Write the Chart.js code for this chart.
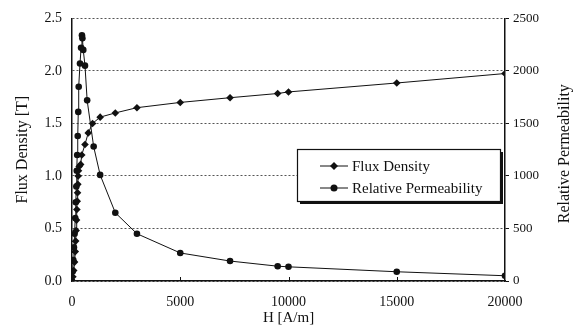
<!DOCTYPE html>
<html>
<head>
<meta charset="utf-8">
<script src="https://cdn.jsdelivr.net/npm/chart.js@4"></script>
<style>
    html, body { margin: 0; padding: 0; background: #fff; }
    #wrap { width: 583px; height: 336px; }
</style>
</head>
<body>
<div id="wrap"><canvas id="bhChart" width="583" height="336"></canvas></div>
<script>
// B-H curve (diamonds)
const fluxH = [0, 40, 80, 120, 150, 170, 190, 210, 225, 240, 255, 270, 285, 300, 330, 400, 450, 600, 750, 950, 1300, 2000, 3000, 5000, 7300, 9500, 10000, 15000, 20000];
const fluxB = [0, 0.04, 0.1, 0.18, 0.28, 0.38, 0.48, 0.58, 0.68, 0.76, 0.84, 0.92, 1.0, 1.05, 1.09, 1.11, 1.2, 1.3, 1.41, 1.5, 1.56, 1.6, 1.65, 1.7, 1.745, 1.785, 1.8, 1.885, 1.975];

// relative permeability (circles)
const permH = [0, 30, 60, 90, 120, 150, 175, 200, 220, 240, 265, 290, 310, 370, 420, 460, 480, 520, 600, 700, 1000, 1300, 2000, 3000, 5000, 7300, 9500, 10000, 15000, 20000];
const permMu = [0, 90, 200, 320, 450, 600, 750, 900, 1050, 1200, 1380, 1610, 1850, 2070, 2220, 2340, 2310, 2200, 2050, 1720, 1280, 1010, 650, 450, 267, 190, 141, 135, 88, 50];

const hTicks = [0, 5000, 10000, 15000, 20000];
const bTicks = [0, 0.5, 1.0, 1.5, 2.0, 2.5];
const muTicks = [0, 500, 1000, 1500, 2000, 2500];

const ink = "#111";
const serif = "'Liberation Serif', 'Times New Roman', serif";

const toPoints = (xs, ys) => xs.map((x, i) => ({ x: x, y: ys[i] }));

// small inward ticks on the H axis
const innerTicks = {
    id: "innerTicks",
    afterDatasetsDraw(chart) {
        const ctx = chart.ctx;
        const xs = chart.scales.x;
        const bottom = chart.chartArea.bottom;
        ctx.save();
        ctx.strokeStyle = ink;
        ctx.lineWidth = 1;
        hTicks.slice(1, -1).forEach((v) => {
            const px = Math.round(xs.getPixelForValue(v)) + 0.5;
            ctx.beginPath();
            ctx.moveTo(px, bottom);
            ctx.lineTo(px, bottom - 4);
            ctx.stroke();
        });
        ctx.restore();
    },
};

// legend box drawn inside the plot, like the original
const legendBox = {
    id: "legendBox",
    afterDraw(chart) {
        const ctx = chart.ctx;
        ctx.save();
        ctx.fillStyle = "#fff";
        ctx.fillRect(297, 149, 203, 52);
        ctx.strokeStyle = ink;
        ctx.lineWidth = 1.2;
        ctx.strokeRect(297.5, 149.5, 203, 52);
        ctx.lineWidth = 2;
        ctx.beginPath();
        ctx.moveTo(300, 203);
        ctx.lineTo(502, 203);
        ctx.lineTo(502, 152);
        ctx.stroke();

        const rows = [
            { label: "Flux Density", style: "diamond", y: 166 },
            { label: "Relative Permeability", style: "circle", y: 188 },
        ];
        ctx.font = "15px " + serif;
        ctx.textBaseline = "middle";
        ctx.fillStyle = ink;
        rows.forEach((r) => {
            ctx.lineWidth = 1;
            ctx.beginPath();
            ctx.moveTo(320, r.y);
            ctx.lineTo(348, r.y);
            ctx.stroke();
            ctx.beginPath();
            if (r.style === "diamond") {
                ctx.moveTo(334, r.y - 4);
                ctx.lineTo(338, r.y);
                ctx.lineTo(334, r.y + 4);
                ctx.lineTo(330, r.y);
                ctx.closePath();
            } else {
                ctx.arc(334, r.y, 3.5, 0, Math.PI * 2);
            }
            ctx.fill();
            ctx.fillText(r.label, 352, r.y + 1);
        });
        ctx.restore();
    },
};

// right axis title reads bottom-to-top in the original
const rightTitle = {
    id: "rightTitle",
    afterDraw(chart) {
        const ctx = chart.ctx;
        const area = chart.chartArea;
        ctx.save();
        ctx.translate(565, (area.top + area.bottom) / 2 + 4);
        ctx.rotate(-Math.PI / 2);
        ctx.font = "16px " + serif;
        ctx.fillStyle = ink;
        ctx.textAlign = "center";
        ctx.textBaseline = "middle";
        ctx.fillText("Relative Permeability", 0, 0);
        ctx.restore();
    },
};

const ctx = document.getElementById("bhChart").getContext("2d");
new Chart(ctx, {
    type: "scatter",
    data: {
        datasets: [
            {
                label: "Flux Density",
                data: toPoints(fluxH, fluxB),
                yAxisID: "y",
                showLine: true,
                borderColor: ink,
                backgroundColor: ink,
                borderWidth: 1,
                pointStyle: "rectRot",
                pointRadius: 3.8,
                pointBorderWidth: 0,
                tension: 0,
            },
            {
                label: "Relative Permeability",
                data: toPoints(permH, permMu),
                yAxisID: "y2",
                showLine: true,
                borderColor: ink,
                backgroundColor: ink,
                borderWidth: 1,
                pointStyle: "circle",
                pointRadius: 3.3,
                pointBorderWidth: 0,
                tension: 0,
            },
        ],
    },
    options: {
        responsive: false,
        animation: false,
        layout: { padding: { top: 16, left: 0, right: 0, bottom: 0 } },
        plugins: {
            legend: { display: false },
            tooltip: { enabled: false },
        },
        scales: {
            x: {
                type: "linear",
                min: 0,
                max: 20000,
                afterBuildTicks: (s) => { s.ticks = hTicks.map((v) => ({ value: v })); },
                afterFit: (s) => { s.height = 55; },
                ticks: {
                    color: ink,
                    padding: 5,
                    maxRotation: 0,
                    font: { family: serif, size: 14 },
                    callback: (v) => String(v),
                },
                grid: { display: false },
                border: { display: true, color: ink, width: 1.5 },
                title: {
                    display: true,
                    text: "H [A/m]",
                    color: ink,
                    font: { family: serif, size: 15 },
                    padding: { top: 0, bottom: 9 },
                },
            },
            y: {
                position: "left",
                min: 0,
                max: 2.5,
                afterBuildTicks: (s) => { s.ticks = bTicks.map((v) => ({ value: v })); },
                afterFit: (s) => { s.width = 72; },
                ticks: {
                    color: ink,
                    padding: 10,
                    font: { family: serif, size: 14 },
                    callback: (v) => Number(v).toFixed(1),
                },
                grid: { color: "#555", lineWidth: 1, drawTicks: false },
                border: { display: true, color: ink, width: 1.5, dash: [2, 2] },
                title: {
                    display: true,
                    text: "Flux Density [T]",
                    color: ink,
                    font: { family: serif, size: 16 },
                    padding: { top: 13, bottom: 0 },
                },
            },
            y2: {
                position: "right",
                min: 0,
                max: 2500,
                afterBuildTicks: (s) => { s.ticks = muTicks.map((v) => ({ value: v })); },
                afterFit: (s) => { s.width = 78; },
                ticks: {
                    color: ink,
                    padding: 4,
                    font: { family: serif, size: 13 },
                    callback: (v) => String(v),
                },
                grid: { drawOnChartArea: false, tickLength: 4, color: ink },
                border: { display: true, color: ink, width: 1.5 },
            },
        },
    },
    plugins: [innerTicks, legendBox, rightTitle],
});
</script>
</body>
</html>
